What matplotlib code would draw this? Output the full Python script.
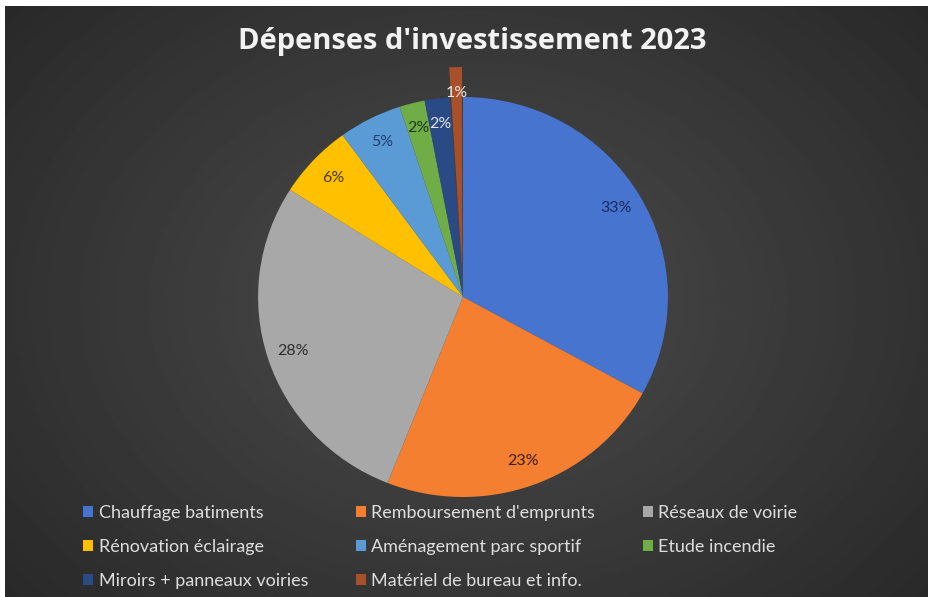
import matplotlib.pyplot as plt
import numpy as np
from matplotlib.patches import Patch

categories = ["Chauffage batiments", "Remboursement d'emprunts", "Réseaux de voirie",
              "Rénovation éclairage", "Aménagement parc sportif", "Etude incendie",
              "Miroirs + panneaux voiries", "Matériel de bureau et info."]
values = [33, 23, 28, 6, 5, 2, 2, 1]
colors = ['#4674cf', '#f47f30', '#a8a8a8', '#ffc000', '#5b9bd5', '#70ad47', '#2a4a86', '#a8502a']
label_colors = ['#1a2c5c', '#3a1e08', '#2e2e2e', '#4a3a00', '#1f3e6e', '#1e3a12', '#dfe4ee', '#f4e8e0']
explode = [0, 0, 0, 0, 0, 0, 0, 0.15]

W, H = 929, 597
fig = plt.figure(figsize=(W / 100, H / 100), dpi=100)
fig.patch.set_facecolor('white')

# dark radial background
bg = fig.add_axes([5 / W, 0, (W - 5) / W, (H - 6) / H])
yy, xx = np.mgrid[0:300, 0:460]
cx, cy = 230, 150
d = np.sqrt(((xx - cx) / 260.0) ** 2 + ((yy - cy) / 200.0) ** 2)
shade = np.clip(0.30 - 0.12 * d, 0.16, 0.30)
bg.imshow(shade, cmap='gray', vmin=0, vmax=1, aspect='auto', extent=[0, 1, 0, 1])
bg.set_axis_off()

# pie
cx_px, cy_px = 463, 297
half = 250
ax = fig.add_axes([(cx_px - half) / W, (H - cy_px - half) / H, 2 * half / W, 2 * half / H])
wedges, texts, autotexts = ax.pie(values, colors=colors, startangle=90, counterclock=False,
                                  explode=explode, autopct='%1.0f%%', pctdistance=0.87,
                                  wedgeprops=dict(linewidth=0),
                                  textprops=dict(fontsize=11.5, family='Lato'))
for t, c in zip(autotexts, label_colors):
    t.set_color(c)
ax.set_aspect('auto')
ax.set_xlim(-1.22, 1.22)
ax.set_ylim(-1.25, 1.25)
ax.set_axis_off()

fig.text(472 / W, 1 - 41 / H, "Dépenses d'investissement 2023", ha='center', va='center',
         color='#f2f2f2', fontsize=21, fontweight='bold', family='Open Sans')

order = [0, 3, 6, 1, 4, 7, 2, 5]
handles = [Patch(facecolor=colors[i], edgecolor='none') for i in order]
labels = [categories[i] for i in order]
leg = fig.legend(handles, labels, ncol=3, loc='upper left', bbox_to_anchor=(67 / W, 1 - 489 / H),
                 frameon=False, prop=dict(family='Lato', size=13), labelcolor='#dedede',
                 handlelength=0.55, handleheight=0.55, handletextpad=0.3, columnspacing=2.65,
                 labelspacing=0.98)

fig.savefig('out.png', dpi=100, facecolor=fig.get_facecolor())
